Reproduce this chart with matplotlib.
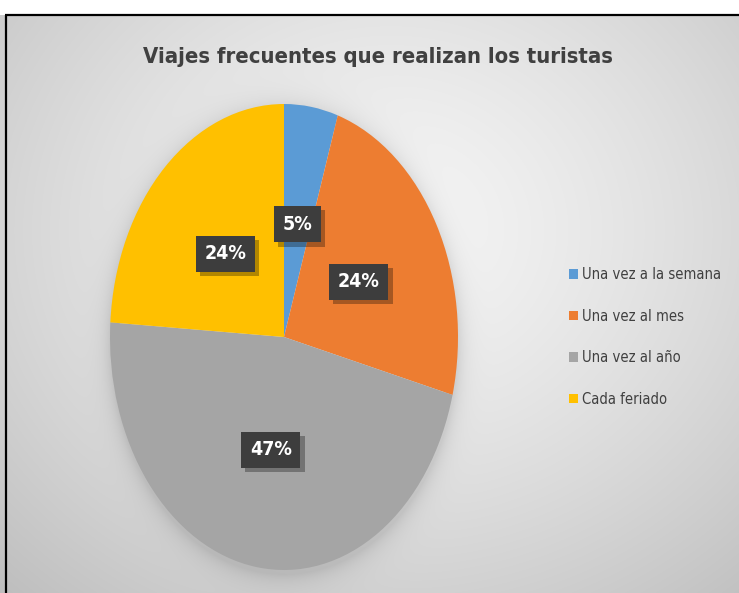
import numpy as np
import matplotlib
matplotlib.use('Agg')
import matplotlib.pyplot as plt
import matplotlib.patheffects as pe
from matplotlib import font_manager as fm

# Datos del gráfico
categorias = ['Una vez a la semana', 'Una vez al mes', 'Una vez al año', 'Cada feriado']
porcentajes = [5, 24, 47, 24]
colores = ['#5B9BD5', '#ED7D31', '#A5A5A5', '#FFC000']
titulo = 'Viajes frecuentes que realizan los turistas'

W, H = 739, 593

# Buscar una fuente estrecha (tipo Arial Narrow / Calibri); si no hay, DejaVu Sans
estrecha = None
for f in fm.fontManager.ttflist:
    if 'Narrow' in f.name or 'Condensed' in f.name or 'condensed' in str(f.stretch):
        estrecha = f.name
        break
if estrecha:
    FONT = [estrecha, 'DejaVu Sans']
    STRETCH = 'condensed'
    esc = 1.0
else:
    FONT = ['DejaVu Sans']
    STRETCH = 'normal'
    esc = 0.8

fig = plt.figure(figsize=(W / 100, H / 100), dpi=100)
fig.patch.set_facecolor('white')

# Fondo con degradado radial y sombra suave alrededor del pastel
ax_bg = fig.add_axes([0, 0, 1, 1])
yy, xx = np.mgrid[0:H, 0:W]
d = np.sqrt(((xx - 390) / 480.0) ** 2 + ((yy - 230) / 420.0) ** 2)
val = 0.96 - 0.17 * np.clip(d, 0, 1.2) ** 1.4
cx, cy, a, b = 284, 337, 174, 233
rho = np.sqrt(((xx - cx) / a) ** 2 + ((yy - cy - 4) / b) ** 2)
dist = np.clip(rho - 1, 0, None) * 200
val = val - 0.10 * np.exp(-dist / 10.0) * (rho > 0.95)
val[:15, :] = 1.0
img = np.dstack([val, val, val])
ax_bg.imshow(img, extent=(0, W, H, 0), aspect='auto', interpolation='bilinear')
ax_bg.plot([6, 6], [15, H], color='black', lw=1.6, solid_capstyle='butt')
ax_bg.plot([5, W], [15, 15], color='black', lw=1.6, solid_capstyle='butt')
ax_bg.set_xlim(0, W)
ax_bg.set_ylim(H, 0)
ax_bg.axis('off')

# Título
fig.text(378 / W, 1 - 57 / H, titulo, ha='center', va='center',
         fontsize=15.8 * esc, fontweight='bold', color='#404040',
         family=FONT, stretch=STRETCH)

# Pastel (elíptico, como en el original)
ax = fig.add_axes([(cx - a) / W, (H - cy - b) / H, 2 * a / W, 2 * b / H])
wedges, textos, autotextos = ax.pie(
    porcentajes, colors=colores, startangle=90, counterclock=False,
    autopct='%.0f%%', pctdistance=0.49, radius=1,
    wedgeprops=dict(linewidth=0))
ax.set_aspect('auto')
ax.set_xlim(-1, 1)
ax.set_ylim(-1, 1)
ax.axis('off')

# Etiquetas con caja oscura y sombra
for t in autotextos:
    t.set(fontsize=14 * esc, fontweight='bold', color='white', family=FONT,
          stretch=STRETCH, zorder=5)
    t.set_bbox(dict(boxstyle='square,pad=0.45', fc='#3d3d3d', ec='none'))
    t.get_bbox_patch().set_path_effects([
        pe.SimplePatchShadow(offset=(3, -3), shadow_rgbFace='black', alpha=0.3),
        pe.Normal()])

# Leyenda
leg = fig.legend(wedges, categorias, loc='center left',
                 bbox_to_anchor=(556 / W, 1 - 337 / H), frameon=False,
                 prop=dict(family=FONT, size=10.6 * esc, stretch=STRETCH),
                 labelcolor='#404040',
                 handlelength=0.6, handleheight=0.6, handletextpad=0.3,
                 labelspacing=1.8 / esc)

fig.savefig('out.png', dpi=100)
